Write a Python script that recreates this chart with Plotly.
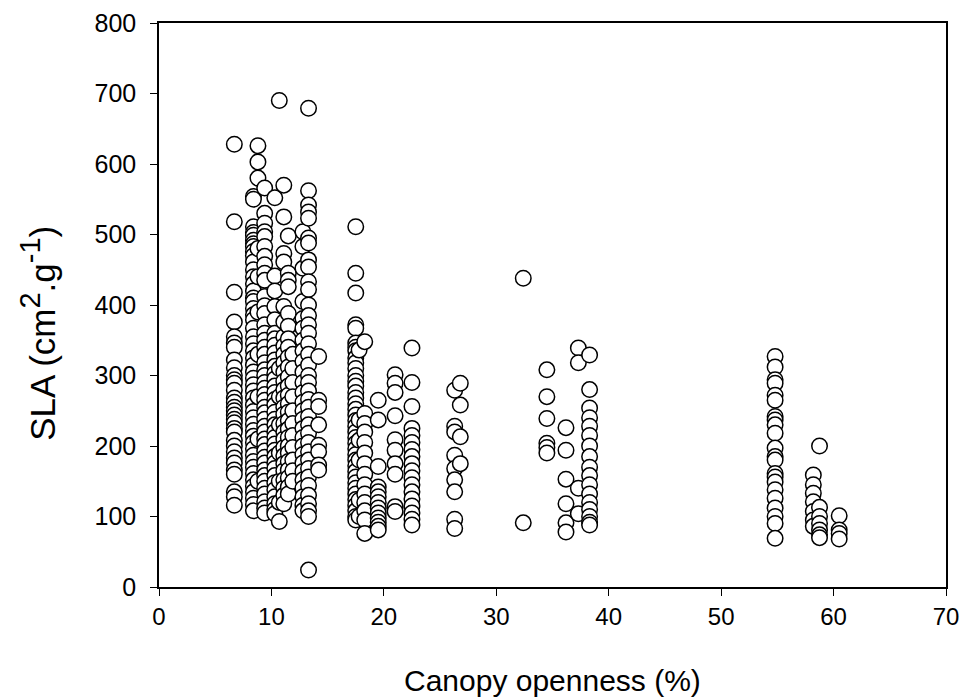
import plotly.graph_objects as go

# Canopy openness (%) column positions and SLA values (cm2/g)
x_6_7 = [628, 518, 418, 376, 355, 346, 340, 322, 311, 300, 294, 289, 279, 268, 262, 255, 250,
         244, 238, 233, 225, 220, 208, 200, 192, 183, 176, 166, 160, 135, 128, 116]
x_8_4 = [554, 550, 511, 503, 499, 492, 487, 483, 476, 470, 461, 450, 440, 430, 420, 410, 405,
         395, 386, 379, 367, 355, 345, 335, 325, 315, 305, 296, 287, 278, 268, 258, 249, 240,
         231, 222, 214, 205, 196, 187, 178, 170, 161, 152, 143, 135, 126, 117, 108]
x_8_8 = [626, 603, 580, 480, 440, 390, 330, 270, 210, 150]
x_9_4 = [566, 530, 516, 504, 497, 483, 469, 457, 445, 435, 412, 399, 388, 372, 360, 350, 340,
         330, 318, 308, 300, 290, 282, 273, 265, 255, 247, 238, 228, 220, 210, 202, 193, 184,
         176, 166, 158, 150, 140, 132, 121, 112, 105]
x_10_3 = [552, 441, 420, 398, 379, 360, 352, 343, 332, 322, 313, 303, 295, 285, 276, 266, 258,
          248, 238, 230, 220, 212, 203, 194, 185, 176, 168, 158, 148, 138, 128, 118, 110, 104]
x_10_7 = [690, 310, 270, 230, 190, 150, 120, 93]
x_11_1 = [570, 525, 473, 461, 398, 376, 355, 342, 330, 318, 305, 292, 280, 268, 255, 245, 232,
          220, 210, 198, 186, 175, 165, 152, 140, 130, 118]
x_11_5 = [498, 445, 435, 426, 388, 370, 352, 340, 326, 312, 298, 285, 272, 260, 248, 236, 224,
          212, 200, 190, 178, 166, 155, 142, 132]
x_11_9 = [330, 310, 290, 270, 250, 232, 215, 198, 180, 165, 150]
x_12_8 = [504, 483, 452, 405, 381, 367, 350, 335, 320, 305, 290, 276, 262, 250, 238, 225, 212,
          200, 188, 176, 164, 152, 140, 128, 116, 108]
x_13_3 = [679, 562, 542, 532, 523, 495, 488, 464, 454, 433, 422, 400, 385, 372, 360, 345, 330,
          315, 300, 290, 278, 266, 255, 242, 230, 218, 205, 192, 180, 168, 156, 144, 130, 118,
          108, 100, 24]
x_14_2 = [327, 265, 256, 230, 201, 192, 173, 166]
x_17_5 = [511, 445, 417, 372, 367, 346, 340, 335, 325, 318, 310, 300, 292, 285, 276, 268, 260,
          252, 244, 236, 228, 220, 212, 204, 196, 188, 180, 172, 164, 156, 148, 140, 132, 124,
          116, 108, 100, 95]
x_17_8 = [336, 237, 208, 180, 123, 100]
x_18_3 = [348, 246, 232, 220, 205, 190, 175, 160, 145, 132, 120, 108, 95, 76]
x_19_5 = [265, 237, 171, 142, 135, 128, 120, 112, 105, 98, 92, 86, 81]
x_21_0 = [301, 289, 276, 243, 209, 194, 175, 160, 114, 107]
x_22_5 = [339, 290, 256, 225, 215, 205, 195, 185, 175, 165, 155, 145, 135, 125, 115, 105, 96, 88]
x_26_3 = [279, 228, 220, 187, 168, 152, 135, 96, 83]
x_26_8 = [289, 258, 213, 175]
x_32_4 = [438, 91]
x_34_5 = [308, 270, 239, 204, 198, 190]
x_36_2 = [226, 194, 153, 118, 91, 78]
x_37_3 = [339, 318, 140, 104]
x_38_3 = [329, 280, 254, 240, 228, 215, 200, 185, 170, 158, 145, 132, 120, 110, 100, 92, 88]
x_54_8 = [327, 312, 294, 289, 272, 265, 242, 237, 230, 218, 197, 185, 180, 161, 156, 149, 138,
          126, 112, 100, 90, 69]
x_58_2 = [159, 145, 133, 121, 107, 95, 86]
x_58_75 = [200, 113, 100, 90, 81, 74, 70]
x_60_5 = [101, 81, 76, 68]

columns = [
    (6.7, x_6_7), (8.4, x_8_4), (8.8, x_8_8), (9.4, x_9_4), (10.3, x_10_3), (10.7, x_10_7),
    (11.1, x_11_1), (11.5, x_11_5), (11.9, x_11_9), (12.8, x_12_8), (13.3, x_13_3),
    (14.2, x_14_2), (17.5, x_17_5), (17.8, x_17_8), (18.3, x_18_3), (19.5, x_19_5),
    (21.0, x_21_0), (22.5, x_22_5), (26.3, x_26_3), (26.8, x_26_8), (32.4, x_32_4),
    (34.5, x_34_5), (36.2, x_36_2), (37.3, x_37_3), (38.3, x_38_3), (54.8, x_54_8),
    (58.2, x_58_2), (58.75, x_58_75), (60.5, x_60_5),
]

xs, ys = [], []
for xv, vals in columns:
    for v in vals:
        xs.append(xv)
        ys.append(v)

x_ticks = [0, 10, 20, 30, 40, 50, 60, 70]
y_ticks = [0, 100, 200, 300, 400, 500, 600, 700, 800]
x_title = "Canopy openness (%)"
y_title = ("SLA (cm<sup><span style='font-size:29px'>2</span></sup>.g"
           "<sup><span style='font-size:29px'>-1</span></sup>)")

fig = go.Figure(go.Scatter(
    x=xs, y=ys, mode="markers",
    marker=dict(symbol="circle", size=15.5, color="white",
                line=dict(color="black", width=1.5)),
    showlegend=False, hoverinfo="x+y",
))

font_main = "Liberation Sans, Arial, sans-serif"
fig.update_layout(
    width=965, height=700,
    margin=dict(l=159, r=19, t=23, b=113, autoexpand=False),
    paper_bgcolor="white", plot_bgcolor="white",
    font=dict(family=font_main, color="black"),
    annotations=[
        dict(text=x_title, xref="paper", yref="paper", x=0.5, y=-0.165,
             xanchor="center", yanchor="middle", showarrow=False,
             font=dict(size=30, family=font_main, color="black")),
        dict(text=y_title, xref="paper", yref="paper", x=-0.153, y=0.45,
             xanchor="center", yanchor="middle", showarrow=False, textangle=-90,
             font=dict(size=35, family=font_main, color="black")),
    ],
)
fig.update_xaxes(
    range=[0, 70], tickvals=x_ticks, ticktext=[str(t) for t in x_ticks],
    showgrid=False, zeroline=False,
    showline=True, linecolor="black", linewidth=1.5, mirror=True,
    ticks="outside", ticklen=7, tickwidth=1.3, tickcolor="black",
    tickfont=dict(size=24, family=font_main), ticklabelstandoff=0,
    automargin=False,
)
fig.update_yaxes(
    range=[0, 800], tickvals=y_ticks, ticktext=[str(t) for t in y_ticks],
    showgrid=False, zeroline=False,
    showline=True, linecolor="black", linewidth=1.5, mirror=True,
    ticks="outside", ticklen=7, tickwidth=1.3, tickcolor="black",
    tickfont=dict(size=25, family=font_main), ticklabelstandoff=9,
    automargin=False,
)

# remove the page's default body margin so the figure sits at the window's top-left corner
page_css = ("document.body.style.margin='0';"
            "document.body.style.overflow='hidden';"
            "document.documentElement.style.overflow='hidden';")
fig.write_html("out.html", post_script=page_css, config={"displayModeBar": False})
